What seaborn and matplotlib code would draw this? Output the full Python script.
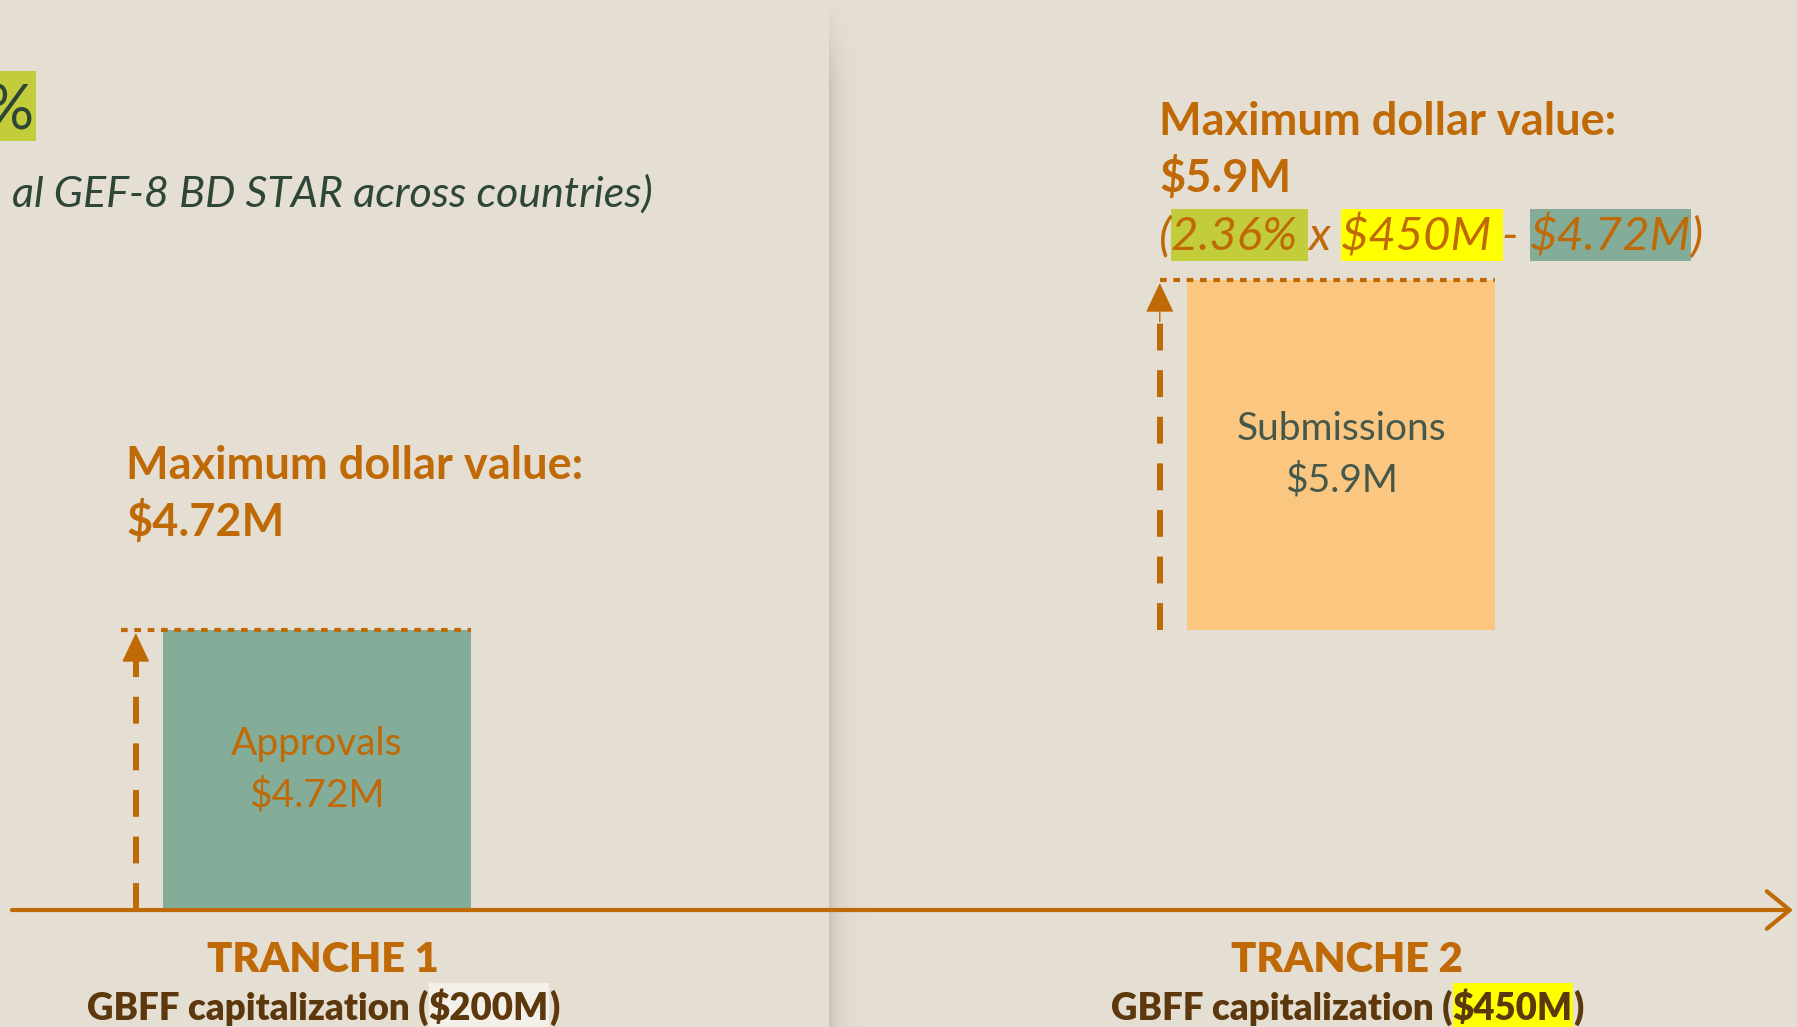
import numpy as np
import pandas as pd
import matplotlib
matplotlib.use("Agg")
import matplotlib.pyplot as plt
import matplotlib.transforms as mtransforms
from matplotlib.patches import Rectangle
import seaborn as sns

# values ($M)
stages = ["Approvals", "Submissions"]
amounts = [4.72, 5.9]
bases = [0, 4.72]          # submissions stack on top of the tranche 1 cap
tranches = ["TRANCHE 1", "TRANCHE 2"]
capitalization = ["$200M", "$450M"]
share = "2.36%"

BG = "#E4DED3"
ORANGE = "#BF6A06"
TEAL = "#83AD98"
PEACH = "#FBC680"
DARK = "#2E4638"
SLATE = "#44584B"
BROWN = "#5C380C"
LIME = "#C3CD3B"
YELLOW = "#FFFF00"
PALE = "#F3F0EA"

sns.set_theme(style="white")
plt.rcParams["font.family"] = ["Lato", "DejaVu Sans"]

W, H = 1797, 1027
fig = plt.figure(figsize=(W / 100, H / 100), dpi=100, facecolor=BG)
ax = fig.add_axes([0, 0, 1, 1])
ax.set_facecolor(BG)

df = pd.DataFrame({"stage": stages, "amount": amounts})
sns.barplot(data=df, x="stage", y="amount", hue="stage", palette=[TEAL, PEACH],
            width=0.3, saturation=1, legend=False, ax=ax, zorder=2)
for patch, b in zip(ax.patches, bases):
    patch.set_y(b)
    patch.set_linewidth(0)

XLIM = (-0.3096, 1.4453)
YLIM = (-1.972, 15.34)

# page fold shadow between the two halves
grad = np.exp(-np.linspace(0, 4, 60))[None, :] * 0.19
fade = np.clip(np.linspace(0, 1, 300) * 12, 0, 1)[:, None]
img = np.zeros((300, 60, 4))
img[..., :3] = (0.35, 0.32, 0.25)
img[..., 3] = grad * fade
ax.imshow(img, extent=(0.5, 0.54, YLIM[0], YLIM[1]), aspect="auto", zorder=0.5,
          origin="upper")
ax.set_xlim(*XLIM)
ax.set_ylim(*YLIM)
ax.axis("off")

# horizontal axis with open arrow
ax.annotate("", xy=(1.4414, 0), xytext=(-0.298, 0),
            arrowprops=dict(arrowstyle="->,head_length=0.55,head_width=0.45",
                            mutation_scale=30, color=ORANGE, lw=3,
                            shrinkA=0, shrinkB=0), zorder=3)

# dotted cap lines and dashed arrows
for i, (b, a) in enumerate(zip(bases, amounts)):
    top = b + a
    right = i + 0.15
    arrow_x = i - 0.177
    start = arrow_x - (0.014 if i == 0 else 0.0)
    ax.plot([start, right], [top, top], color=ORANGE, lw=3.0,
            ls=(0, (1.6, 1.6)), dash_capstyle="butt", zorder=3)
    ax.plot([arrow_x, arrow_x], [b, top - 0.3], color=ORANGE, lw=4.3,
            ls=(0, (4.5, 3.3)), dash_capstyle="butt", zorder=3)
    ax.annotate("", xy=(arrow_x, top - 0.05), xytext=(arrow_x, top - 0.7),
                arrowprops=dict(arrowstyle="-|>,head_length=0.95,head_width=0.45",
                                mutation_scale=20, color=ORANGE, lw=1,
                                shrinkA=0, shrinkB=0), zorder=3)

# labels inside bars
label_colors = [ORANGE, SLATE]
for i, (s, b, a) in enumerate(zip(stages, bases, amounts)):
    ax.text(i, b + a / 2, f"{s}\n${a}M", ha="center", va="center",
            fontsize=28, color=label_colors[i], linespacing=1.5, zorder=4)

renderer = fig.canvas.get_renderer()


def text_width(s, **kw):
    t1 = fig.text(0, 0, "|" + s + "|", **kw)
    t2 = fig.text(0, 0, "||", **kw)
    w = t1.get_window_extent(renderer).width - t2.get_window_extent(renderer).width
    t1.remove()
    t2.remove()
    return w


def runs(x, y, parts, box_y, center=False, **kw):
    # parts: (text, highlight colour or None); x, y in pixels from top-left, y = baseline
    widths = [text_width(s, **kw) for s, _ in parts]
    if center:
        x = x - sum(widths) / 2
    for (s, hl), w in zip(parts, widths):
        if hl is not None:
            fig.patches.append(Rectangle((x / W, 1 - box_y[1] / H), w / W,
                                         (box_y[1] - box_y[0]) / H,
                                         transform=fig.transFigure,
                                         color=hl, lw=0, zorder=1))
        fig.text(x / W, 1 - y / H, s, va="baseline", ha="left", zorder=3, **kw)
        x += w


# top-left fragment of the slide title
fig.patches.append(Rectangle((0, 1 - 141 / H), 36 / W, 70 / H,
                             transform=fig.transFigure, color=LIME, lw=0, zorder=1))
fig.text(33 / W, 1 - 130 / H, "%", ha="right", va="baseline", fontsize=44,
         color=DARK, zorder=3)
fig.text(653 / W, 1 - 207 / H, "al GEF-8 BD STAR across countries)", ha="right",
         va="baseline", fontsize=31, style="italic", color=DARK)

# maximum dollar value callouts
for x, y, amt in [(126, 479, amounts[0]), (1159, 135, amounts[1])]:
    fig.text(x / W, 1 - y / H, "Maximum dollar value:", fontsize=32.5,
             fontweight="bold", color=ORANGE, va="baseline")
    fig.text(x / W, 1 - (y + 57) / H, f"${amt}M", fontsize=32.5,
             fontweight="bold", color=ORANGE, va="baseline")

formula = [("(", None), (share + " ", LIME), ("x ", None),
           (capitalization[1] + " ", YELLOW), ("- ", None),
           (f"${amounts[0]}M", TEAL), (")", None)]
runs(1159, 250, formula, (209, 261), fontsize=34, style="italic", color=ORANGE)

# tranche labels under the axis
blend = mtransforms.blended_transform_factory(ax.transData, fig.transFigure)
for i, name in enumerate(tranches):
    ax.text(i + 0.006, 1 - 972 / H, name, transform=blend, ha="center",
            va="baseline", fontsize=30, fontweight="heavy", color=ORANGE)
    cx = ax.transData.transform((i, 0))[0] + 6
    hl = PALE if i == 0 else YELLOW
    runs(cx, 1020, [("GBFF capitalization (", None), (capitalization[i], hl), (")", None)],
         (983, 1027), center=True, fontsize=26.4, fontweight="heavy", color=BROWN)

fig.savefig("out.png", dpi=100, facecolor=BG)
